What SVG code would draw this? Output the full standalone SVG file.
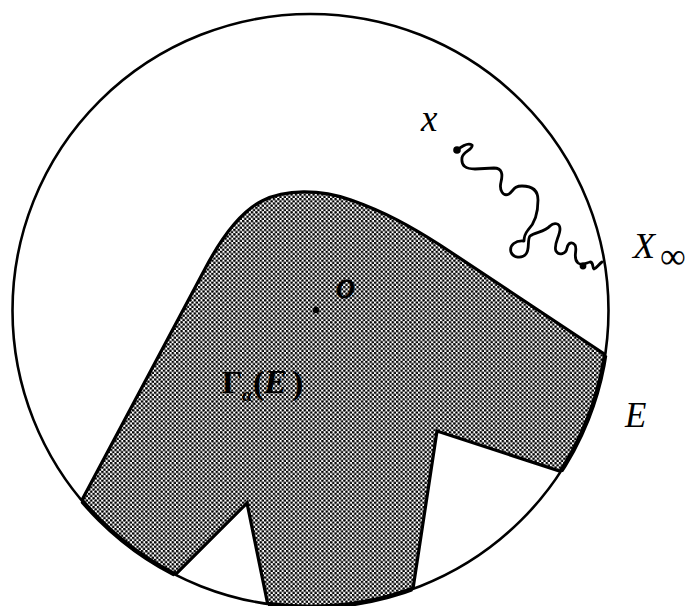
<svg xmlns="http://www.w3.org/2000/svg" width="687" height="606" viewBox="0 0 687 606">
  <style>
    .lbl { font-family: "Liberation Serif", "DejaVu Serif", serif; fill: #000; }
    .it { font-style: italic; }
    .outline { fill: none; stroke: #000; stroke-width: 2.6; }
    .edge { fill: none; stroke: #000; stroke-width: 3.2; stroke-linejoin: miter; }
    .walk { fill: none; stroke: #000; stroke-width: 2.8; stroke-linecap: round; stroke-linejoin: round; }
  </style>
  <defs>
    <pattern id="dots" width="4.4" height="4.4" patternUnits="userSpaceOnUse">
      <rect width="4.4" height="4.4" fill="#fff"/>
      <circle cx="1.1" cy="1.1" r="1.35" fill="#000"/>
      <circle cx="3.3" cy="3.3" r="1.35" fill="#000"/>
    </pattern>
    <clipPath id="disk">
      <ellipse cx="310.5" cy="310.5" rx="298" ry="296.5"/>
    </clipPath>
    <path id="regionShape" d="M 66,530 L 206,267 C 222,237 240,212 262,201 C 285,189 320,189 351,200 C 385,212 410,226 440,245 L 630,371 L 590,481 L 437,431 L 409,615 L 272,625 L 247,503 L 160,590 Z"/>
    <clipPath id="regionClip">
      <use href="#regionShape"/>
    </clipPath>
  </defs>
  <rect width="687" height="606" fill="#fff"/>

  <g id="region" clip-path="url(#disk)">
    <use href="#regionShape" fill="url(#dots)"/>
    <use href="#regionShape" class="edge"/>
  </g>

  <g id="disk-boundary">
    <ellipse class="outline" cx="310.5" cy="310.5" rx="298" ry="296.5"/>
    <ellipse cx="310.5" cy="310.5" rx="298" ry="296.5" fill="none" stroke="#000" stroke-width="4.6" clip-path="url(#regionClip)"/>
  </g>

  <g id="walk">
    <path class="walk" d="M 457,150 C 462,146 468,142 472,145 C 474,149 462,152 462,158 C 461,166 466,169 475,169 L 494,168 C 502,168 503,174 501,182 C 499,190 503,197 509,194 C 514,190 514,186 522,186 C 532,186 538,190 538,200 C 538,212 536,222 528,230 C 524,235 524,238 524,241 C 516,240 509,245 511,252 C 513,258 522,259 526,254 C 530,249 527,240 530,236 C 535,232 545,232 550,226 C 554,222 560,223 560,229 C 560,236 553,245 556,251 C 559,256 566,254 567,248 C 568,243 572,241 575,245 C 578,250 572,258 578,263 C 582,266 586,263 590,262 C 594,262 592,268 594,269 C 597,268 599,264 602,262"/>
    <circle cx="457" cy="150" r="3.8" fill="#000"/>
    <circle cx="583" cy="266" r="3.4" fill="#000"/>
  </g>

  <g id="origin">
    <circle cx="316" cy="310" r="3.2" fill="#000"/>
    <text class="lbl it" x="336" y="298" font-size="38" stroke="#000" stroke-width="0.8">o</text>
  </g>

  <g id="labels">
    <text class="lbl it" x="421" y="131" font-size="37">x</text>
    <text class="lbl it" x="633" y="258" font-size="36">X</text>
    <text class="lbl" x="660" y="268" font-size="36">∞</text>
    <text class="lbl it" x="625" y="427" font-size="35">E</text>
  </g>

  <g id="cone-label" font-weight="bold">
    <text class="lbl" x="222" y="393" font-size="32">Γ</text>
    <text class="lbl it" x="242" y="401" font-size="19">α</text>
    <text class="lbl" x="253" y="394" font-size="34">(</text>
    <text class="lbl it" x="264" y="393" font-size="34">E</text>
    <text class="lbl" x="292" y="394" font-size="34">)</text>
  </g>
</svg>
